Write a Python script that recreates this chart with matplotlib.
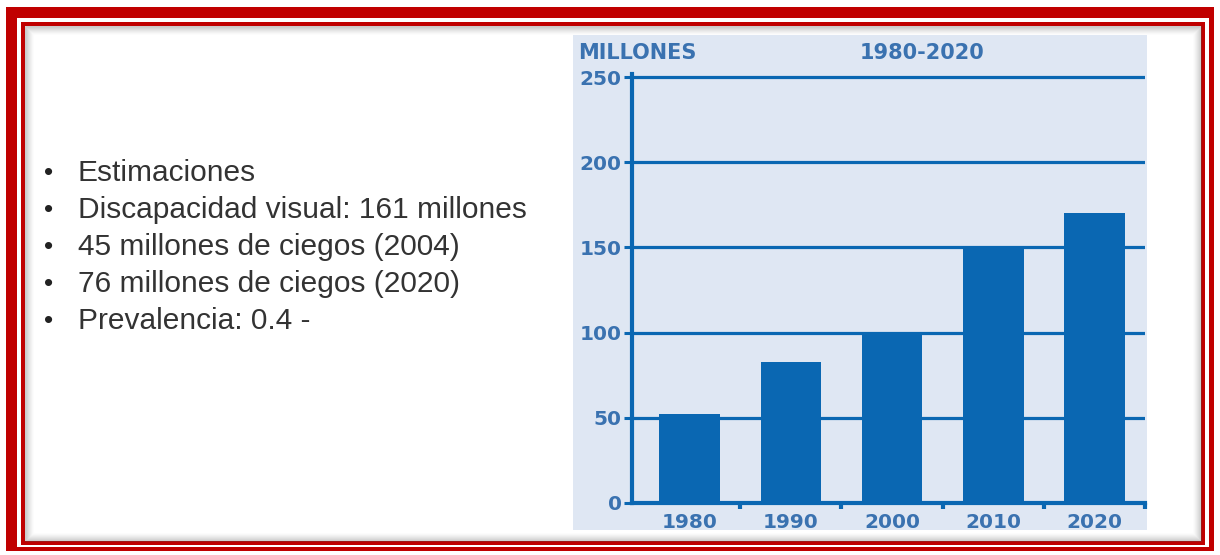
import matplotlib.pyplot as plt
from matplotlib.patches import Rectangle

# data
years = ['1980', '1990', '2000', '2010', '2020']
millones = [52, 83, 100, 150, 170]
yticks = [0, 50, 100, 150, 200, 250]
bullets = ['Estimaciones',
           'Discapacidad visual: 161 millones',
           '45 millones de ciegos (2004)',
           '76 millones de ciegos (2020)',
           'Prevalencia: 0.4 -']

W, H = 1220, 555
RED = '#c00000'
BLUE = '#0a67b2'
TXT_BLUE = '#3a72b0'

fig = plt.figure(figsize=(W / 100, H / 100), dpi=100)


def box(x0, y0, x1, y1):
    # pixel box (top-left origin) -> figure fraction rect
    return (x0 / W, 1 - y1 / H, (x1 - x0) / W, (y1 - y0) / H)


def rect(x0, y0, x1, y1, **kw):
    l, b, w, h = box(x0, y0, x1, y1)
    fig.patches.append(Rectangle((l, b), w, h, transform=fig.transFigure,
                                 zorder=0, **kw))


# frame: thick red, white gap, thin red, panel with soft shadow
rect(6, 7, 1214, 551, facecolor=RED, edgecolor='none')
rect(17, 18, 1209, 547, facecolor='white', edgecolor='none')
rect(21, 22, 1205, 545, facecolor=RED, edgecolor='none')
rect(25, 26, 1201, 541, facecolor='white', edgecolor='none')
for i in range(9):
    rect(25 + i, 26 + i, 1201 - i, 541 - i, facecolor='none',
         edgecolor='#555555', linewidth=0.9, alpha=0.28 * (1 - i / 9) ** 1.5)

# chart background
rect(573, 35, 1147, 530, facecolor='#dfe7f3', edgecolor='none')

# bullet list
for i, s in enumerate(bullets):
    y = 1 - (173 + i * 37) / H
    fig.text(44 / W, y, '•', fontsize=19, color='#222222', va='center',
             family='Liberation Sans')
    fig.text(78 / W, y, s, fontsize=21.5, color='#333333', va='center',
             family='Liberation Sans')

# bar chart
ax = fig.add_axes(box(632, 73.6, 1145, 503))
ax.set_zorder(5)
ax.patch.set_alpha(0)
x = range(len(years))
ax.bar(x, millones, width=0.6, color=BLUE, zorder=2)
for v in yticks[1:]:
    ax.axhline(v, color=BLUE, linewidth=2.3, zorder=1)

ax.set_xlim(-0.57, 4.5)
ax.set_ylim(0, 252)
for side in ['top', 'right']:
    ax.spines[side].set_visible(False)
for side in ['left', 'bottom']:
    ax.spines[side].set_color(BLUE)
    ax.spines[side].set_linewidth(3)

ax.set_yticks(yticks)
ax.tick_params(axis='y', length=6, width=2.2, color=BLUE, pad=1.5,
               labelsize=14.5, labelcolor=TXT_BLUE)
ax.set_xticks([0.5, 1.5, 2.5, 3.5, 4.5])
ax.set_xticklabels([])
ax.set_xticks(list(x), minor=True)
ax.set_xticklabels(years, minor=True)
ax.tick_params(axis='x', which='major', length=4, width=3, color=BLUE)
ax.tick_params(axis='x', which='minor', length=0, pad=7,
               labelsize=14.5, labelcolor=TXT_BLUE)
for lab in ax.get_xticklabels(minor=True) + ax.get_yticklabels():
    lab.set_fontweight('bold')

fig.text(578 / W, 1 - 53 / H, 'MILLONES', fontsize=15, fontweight='bold',
         color=TXT_BLUE, va='center', ha='left')
fig.text(922 / W, 1 - 53 / H, '1980-2020', fontsize=15, fontweight='bold',
         color=TXT_BLUE, va='center', ha='center')

fig.savefig('out.png', dpi=100)
